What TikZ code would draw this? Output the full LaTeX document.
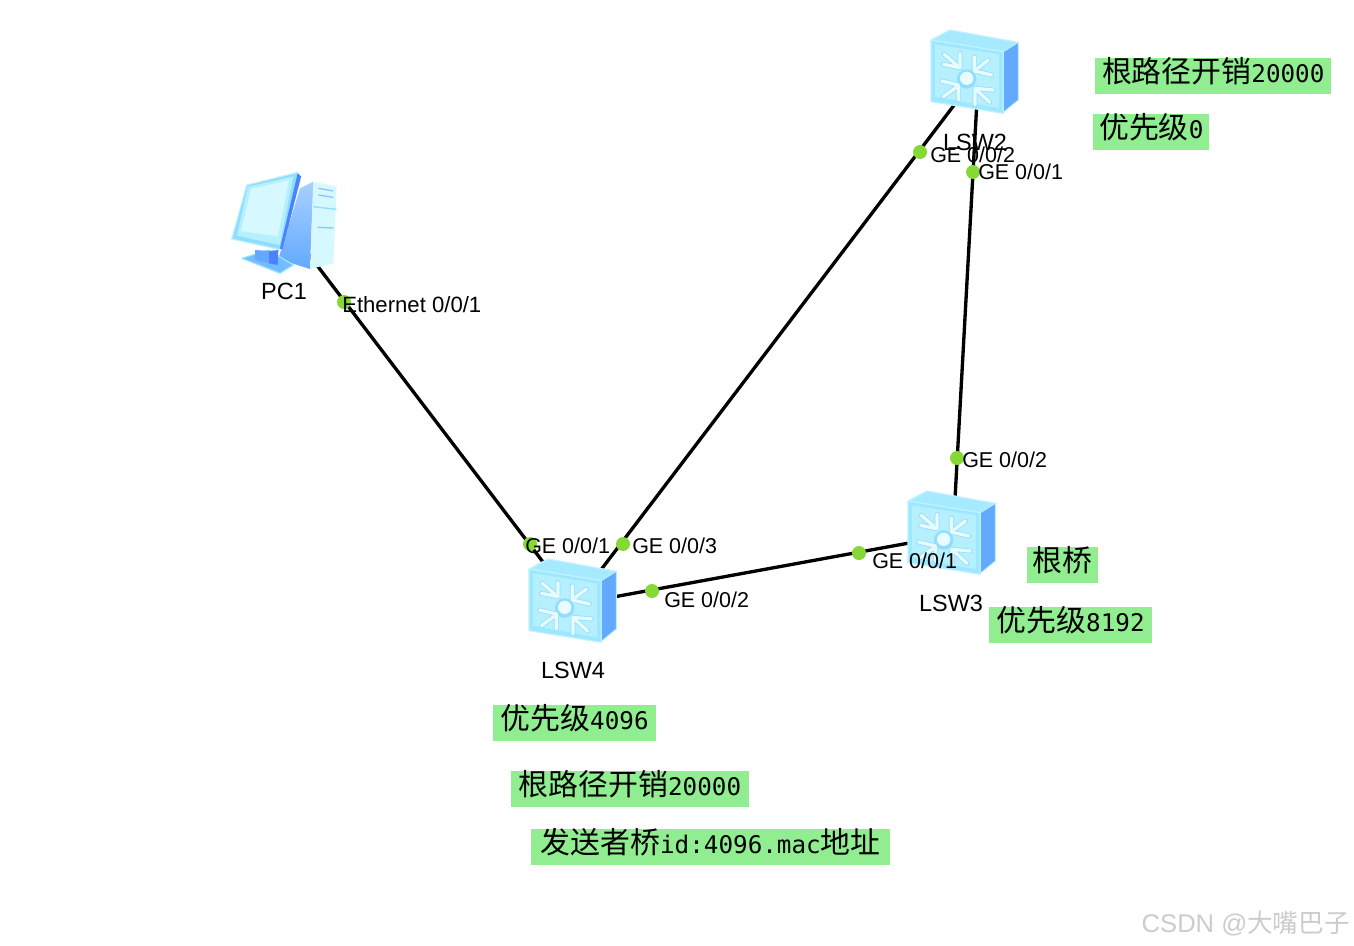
\documentclass[tikz,border=0pt]{standalone}
\usepackage{fontspec}
\setmainfont{Liberation Sans}
\newfontfamily\cjkfont{Noto Sans CJK SC}
\newfontfamily\monofont{DejaVu Sans Mono}
\newcommand{\zh}[1]{{\cjkfont\fontsize{22.4}{24}\selectfont #1}}
\newcommand{\code}[1]{{\monofont\fontsize{18.2}{24}\selectfont #1}}
\definecolor{tagfill}{HTML}{90EE90}
\definecolor{portdot}{HTML}{86D834}
\definecolor{iconedge}{HTML}{9BE8FF}
\definecolor{iconpanel}{HTML}{B6F0FF}
\definecolor{icontop}{HTML}{A6EAFF}
\definecolor{iconside}{HTML}{63A9FF}
\definecolor{iconshade}{HTML}{8FDDFF}
\definecolor{iconwhite}{HTML}{E8FBFF}
\definecolor{iconscreen}{HTML}{D6F8FF}
\definecolor{icondeep}{HTML}{4A82FF}
\tikzset{
  link/.style={draw=black,line width=2.5pt},
  anchorbox/.style={minimum size=2pt,inner sep=0pt},
  port/.style={circle,fill=portdot,minimum size=10.5pt,inner sep=0pt},
  portlabel/.style={anchor=base west,inner sep=0pt,font=\fontsize{16.1}{18}\selectfont},
  devlabel/.style={anchor=base,inner sep=0pt,font=\fontsize{17.6}{18}\selectfont},
  tag/.style={anchor=north west,fill=tagfill,inner xsep=1.5pt,inner ysep=0pt,align=left,
    minimum height=26.5pt,text height=17.5pt,text depth=7pt},
  glow/.style={draw=iconshade,line width=3.6pt,line cap=round,line join=round},
  chevron/.style={draw=iconwhite,line width=2.5pt,line cap=round,line join=round},
  pics/switchicon/.style={code={
    \begin{scope}[x=.25pt,y=-.25pt]
      \fill[icontop,draw=iconedge!60!white,line width=.9pt,line join=round] (18,45) -- (75,15) -- (280,52) -- (235,80) -- cycle;
      \fill[iconedge,draw=iconedge!60!white,line width=.9pt,line join=round] (18,45) -- (235,80) -- (235,265) -- (18,230) -- cycle;
      \fill[iconpanel] (30,58) -- (222,88) -- (222,250) -- (30,215) -- cycle;
      \fill[iconside,draw=iconedge!70!white,line width=.7pt,line join=round] (235,80) -- (280,52) -- (280,225) -- (235,262) -- cycle;
      \fill[iconshade] (125,162) circle (29);
      \fill[iconwhite] (125,160) circle (20);
      \foreach \lay in {glow,chevron}{
        \draw[\lay] (105,85) -- (105,128) -- (55,118) (58,88) -- (95,120);
        \draw[\lay] (148,95) -- (148,138) -- (200,150) (190,105) -- (158,130);
        \draw[\lay] (50,168) -- (100,180) -- (100,225) (55,215) -- (92,188);
        \draw[\lay] (205,195) -- (150,190) -- (150,240) (195,232) -- (158,198);
      }
    \end{scope}
  }},
  pics/pcicon/.style={code={
    \begin{scope}[x=.25pt,y=-.25pt]
      % tower
      \shade[top color=iconside!55!white,bottom color=iconside] (225,70) -- (265,50) -- (255,312) -- (160,282) -- cycle;
      \fill[iconscreen] (265,50) -- (335,65) -- (325,295) -- (255,312) -- cycle;
      \draw[iconside!70!white,line width=1pt] (280,70) -- (325,78) (280,90) -- (325,97) (278,187) -- (325,189);
      \draw[iconshade,line width=1pt] (265,125) -- (335,133);
      % stand
      \fill[iconside!70!iconedge,draw=iconedge,line width=.9pt,line join=round] (50,280) -- (130,255) -- (205,300) -- (165,325) -- cycle;
      \fill[iconside] (90,255) -- (135,258) -- (135,296) -- (90,285) -- cycle;
      \fill[icondeep] (132,258) -- (160,255) -- (158,300) -- (132,295) -- cycle;
      % monitor
      \fill[iconshade,draw=iconedge!60!white,line width=.8pt,line join=round] (65,60) -- (218,22) -- (228,35) -- (170,255) -- (20,222) -- cycle;
      \fill[icondeep] (218,25) -- (228,35) -- (172,255) -- (165,250) -- cycle;
      \fill[iconpanel] (68,66) -- (205,34) -- (164,240) -- (36,212) -- cycle;
      \fill[iconscreen] (78,72) -- (192,45) -- (158,214) -- (48,198) -- cycle;
    \end{scope}
  }}
}
\begin{document}
\begin{tikzpicture}[x=.75pt,y=-.75pt]
  \useasboundingbox (0,0) rectangle (1354,946);
  \fill[white] (0,0) rectangle (1354,946);

  % Anchor points at the middle of each device
  \node[anchorbox] (pc1) at (284,222) {};
  \node[anchorbox] (lsw2) at (978.5,73) {};
  \node[anchorbox] (lsw3) at (953,535) {};
  \node[anchorbox] (lsw4) at (575,604) {};

  % Cabling runs under the device icons
  \draw[link] (pc1.center) -- (lsw4.center);
  \draw[link] (lsw4.center) -- (lsw2.center);
  \draw[link] (lsw4.center) -- (lsw3.center);
  \draw[link] (lsw2.center) -- (lsw3.center);

  % Device icons
  \pic at (925,25) {switchicon};
  \pic at (902,486) {switchicon};
  \pic at (523,554) {switchicon};
  \pic at (225,165) {pcicon};

  % Port markers
  \node[port] (p1) at (344,302) {};
  \node[port] (p2) at (530,544) {};
  \node[port] (p3) at (623,544) {};
  \node[port] (p4) at (652,591) {};
  \node[port] (p5) at (859,553) {};
  \node[port] (p6) at (957,458) {};
  \node[port] (p7) at (920,152) {};
  \node[port] (p8) at (973,172) {};

  % Device names
  \node[devlabel] (n1) at (284,299) {PC1};
  \node[devlabel] (n2) at (975,150) {LSW2};
  \node[devlabel] (n3) at (951,611) {LSW3};
  \node[devlabel] (n4) at (573,678) {LSW4};

  % Port names
  \node[portlabel,font=\fontsize{16.6}{18}\selectfont] (l1) at (342,312) {Ethernet 0/0/1};
  \node[portlabel] (l2) at (525,553) {GE 0/0/1};
  \node[portlabel] (l3) at (632,553) {GE 0/0/3};
  \node[portlabel] (l4) at (664,607) {GE 0/0/2};
  \node[portlabel] (l5) at (872,568) {GE 0/0/1};
  \node[portlabel] (l6) at (962,467) {GE 0/0/2};
  \node[portlabel] (l7) at (930,162) {GE 0/0/2};
  \node[portlabel] (l8) at (978,179) {GE 0/0/1};

  % Spanning-tree notes
  \node[tag,minimum width=177pt] (t1) at (1095,58) {\zh{根路径开销}\code{20000}};
  \node[tag,minimum width=87pt] (t2) at (1093,114) {\zh{优先级}\code{0}};
  \node[tag,minimum width=53pt] (t3) at (1027,547) {\zh{根桥}};
  \node[tag,minimum width=122pt] (t4) at (989,607) {\zh{优先级}\code{8192}};
  \node[tag,minimum width=122pt] (t5) at (493,705) {\zh{优先级}\code{4096}};
  \node[tag,minimum width=178pt] (t6) at (511,771) {\zh{根路径开销}\code{20000}};
  \node[tag,minimum width=269pt] (t7) at (531,829) {\zh{发送者桥}\code{id:4096.mac}\zh{地址}};

  % Site mark in the corner
  \node[anchor=base east,inner sep=0pt,text=black!20,font=\fontsize{19.2}{22}\selectfont] (mark) at (1350,932) {CSDN @{\cjkfont 大嘴巴子}};
\end{tikzpicture}
\end{document}
